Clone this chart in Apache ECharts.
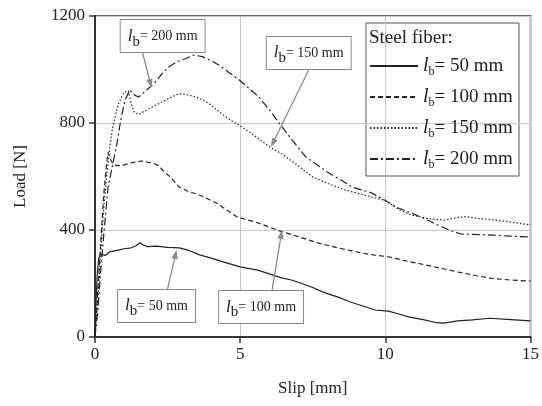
<!DOCTYPE html>
<html><head><meta charset="utf-8">
<script src="https://cdn.jsdelivr.net/npm/echarts@6/dist/echarts.min.js"></script>
<style>html,body{margin:0;padding:0;background:#fff}#c{width:542px;height:406px}</style>
</head><body><div id="c"></div>
<script>
// ---- data (slip [mm], load [N]) ----
const names = ['50', '100', '150', '200'];
const xTicks = [0, 5, 10, 15];
const yTicks = [0, 400, 800, 1200];
const s50 = [[0,0],[0.03,120],[0.08,240],[0.13,295],[0.2,310],[0.35,305],[0.5,318],[0.8,325],[1.0,330],[1.2,332],[1.4,340],[1.55,352],[1.65,345],[1.8,338],[2.1,340],[2.5,335],[2.9,333],[3.2,325],[3.6,307],[4.0,295],[4.5,278],[5.0,262],[5.6,250],[6.0,236],[6.4,222],[6.8,212],[7.1,201],[7.5,185],[7.9,166],[8.4,148],[8.8,131],[9.2,117],[9.65,101],[10.1,97],[10.5,85],[10.8,75],[11.3,65],[11.7,55],[12.0,52],[12.5,60],[13.0,64],[13.6,70],[14.2,66],[15,60]];
const s100 = [[0,0],[0.1,180],[0.2,360],[0.3,530],[0.4,650],[0.45,690],[0.55,660],[0.65,643],[0.9,640],[1.2,650],[1.6,658],[2.0,650],[2.2,640],[2.4,615],[2.6,598],[2.9,560],[3.2,545],[3.6,531],[4.2,500],[4.6,470],[4.9,449],[5.6,427],[6.4,395],[7.0,375],[7.7,351],[8.3,335],[9.0,318],[9.5,308],[10.1,300],[10.7,285],[11.4,269],[12.0,255],[12.5,243],[13.1,230],[13.6,220],[14.3,213],[15,209]];
const s150 = [[0,0],[0.1,150],[0.2,320],[0.3,480],[0.4,600],[0.5,700],[0.6,780],[0.8,870],[1.0,915],[1.15,920],[1.25,870],[1.35,840],[1.5,832],[1.8,850],[2.1,867],[2.5,890],[2.9,910],[3.2,905],[3.5,897],[3.9,875],[4.2,849],[4.6,815],[5.0,790],[5.5,752],[6.0,712],[6.5,680],[7.0,640],[7.5,598],[8.0,575],[8.6,550],[9.3,530],[10.0,510],[10.5,475],[10.9,456],[11.5,442],[12.05,437],[12.5,447],[12.8,450],[13.2,443],[13.7,438],[14.3,430],[15,419]];
const s200 = [[0,0],[0.1,100],[0.2,250],[0.3,380],[0.45,560],[0.6,640],[0.75,720],[0.9,820],[1.05,890],[1.2,923],[1.35,905],[1.5,897],[1.7,915],[1.9,935],[2.1,955],[2.33,987],[2.55,1010],[2.8,1028],[3.1,1040],[3.4,1054],[3.7,1048],[3.95,1035],[4.3,1015],[4.6,990],[4.97,961],[5.3,930],[5.65,897],[6.0,850],[6.34,800],[6.8,735],[7.26,673],[7.7,640],[8.05,613],[8.5,585],[8.84,561],[9.5,540],[10.0,510],[10.45,482],[10.9,463],[11.4,440],[11.8,419],[12.2,400],[12.6,385],[13.2,383],[13.7,381],[14.3,377],[15,374]];
// annotation labels: text, box centre and arrow tip in data units
const annLabels = ['200', '150', '50', '100'];
const annBox = [[2.33,1125],[7.36,1062],[2.12,116],[5.72,112]];
const annTip = [[1.95,931],[6.06,710],[2.81,325],[6.44,400]];

// ---- chart ----
const FONT = 'Liberation Serif';
const INK = '#222';
const styles = [
  {type:'solid'}, {type:[5,3]}, {type:[1.5,2]}, {type:[8,3,2,3]}
];
const seriesData = [s50, s100, s150, s200];
const chart = echarts.init(document.getElementById('c'), null, {renderer:'canvas'});
const legendRich = {
  l:{fontFamily:FONT, fontStyle:'italic', fontSize:20, color:INK, lineHeight:26, verticalAlign:'middle'},
  b:{fontFamily:FONT, fontSize:12, color:INK, lineHeight:12, verticalAlign:'bottom', padding:[0,0,1,0]},
  t:{fontFamily:FONT, fontSize:19, color:INK, lineHeight:26, verticalAlign:'middle'}
};
chart.setOption({
  animation:false,
  backgroundColor:'#fff',
  grid:{left:95, right:9, top:16, bottom:69, show:true, borderColor:'#333', borderWidth:1.5},
  xAxis:{type:'value', min:xTicks[0], max:xTicks[xTicks.length-1], interval:5,
    name:'Slip [mm]', nameLocation:'middle', nameGap:43,
    nameTextStyle:{fontFamily:FONT, fontSize:17, color:INK},
    axisLine:{show:true, lineStyle:{color:'#333', width:2}},
    axisTick:{show:true, inside:false, length:6, lineStyle:{color:'#333', width:1.5}},
    axisLabel:{fontFamily:FONT, fontSize:17, color:INK, margin:9, formatter:v => String(v)},
    splitLine:{show:true, lineStyle:{color:'#c8c8c8', width:1}}},
  yAxis:{type:'value', min:yTicks[0], max:yTicks[yTicks.length-1], interval:400,
    name:'Load [N]', nameLocation:'middle', nameGap:66, nameRotate:90,
    nameTextStyle:{fontFamily:FONT, fontSize:17, color:INK},
    axisLine:{show:true, lineStyle:{color:'#333', width:2}},
    axisTick:{show:true, inside:false, length:6, lineStyle:{color:'#333', width:1.5}},
    axisLabel:{fontFamily:FONT, fontSize:17, color:INK, margin:10, formatter:v => String(v)},
    splitLine:{show:true, lineStyle:{color:'#c8c8c8', width:1}}},
  legend:{orient:'vertical', left:364, top:51, itemGap:8, itemWidth:48, itemHeight:14,
    data:names,
    itemStyle:{opacity:0},
    formatter:n => '{l|l}{b|b}{t|= ' + n + ' mm}',
    textStyle:{rich:legendRich}},
  series:seriesData.map((d,i) => ({
    name:names[i], type:'line', data:d, symbol:'none', smooth:false,
    lineStyle:{color:INK, width:1.2, type:styles[i].type}, itemStyle:{color:INK}
  }))
});

// legend frame + title, annotations
const px = p => chart.convertToPixel({gridIndex:0}, p);
const g = [];
g.push({type:'rect', shape:{x:366, y:23, width:153, height:153}, style:{fill:'#fff', stroke:'#555', lineWidth:1}, z:-1, zlevel:0});
g.push({type:'text', left:369, top:29, style:{text:'Steel fiber:', fontFamily:FONT, fontSize:19, fill:INK}, z:5});
const annRich = {
  l:{fontFamily:FONT, fontStyle:'italic', fontSize:17, fill:INK, lineHeight:22, verticalAlign:'middle'},
  b:{fontFamily:FONT, fontSize:15, fill:INK, lineHeight:14, verticalAlign:'bottom', padding:[0,0,-2,0]},
  t:{fontFamily:FONT, fontSize:14, fill:INK, lineHeight:22, verticalAlign:'middle'}
};
const offs = [-20, 0, 11, 11];
annLabels.forEach((lab,i) => {
  const c = px(annBox[i]);
  const tip = px(annTip[i]);
  const above = c[1] < tip[1];
  const sx = c[0] + offs[i];
  const sy = above ? c[1] + 17 : c[1] - 17;
  const dx = tip[0]-sx, dy = tip[1]-sy, L = Math.hypot(dx,dy);
  const ux = dx/L, uy = dy/L, ah = 9, aw = 3.2;
  const bx = tip[0]-ux*ah, by = tip[1]-uy*ah;
  g.push({type:'line', shape:{x1:sx, y1:sy, x2:bx, y2:by}, style:{stroke:'#8a8a8a', lineWidth:1.3}, z:10});
  g.push({type:'polygon', shape:{points:[[tip[0],tip[1]],[bx-uy*aw, by+ux*aw],[bx+uy*aw, by-ux*aw]]}, style:{fill:'#8a8a8a'}, z:10});
  g.push({type:'text', x:c[0], y:c[1], z:11, style:{
    text:'{l|l}{b|b}{t|= ' + lab + ' mm}', rich:annRich, align:'center', verticalAlign:'middle',
    backgroundColor:'#fff', borderColor:'#8a8a8a', borderWidth:1, padding:[5,7,5,7]}});
});
chart.setOption({graphic:g});
</script></body></html>
